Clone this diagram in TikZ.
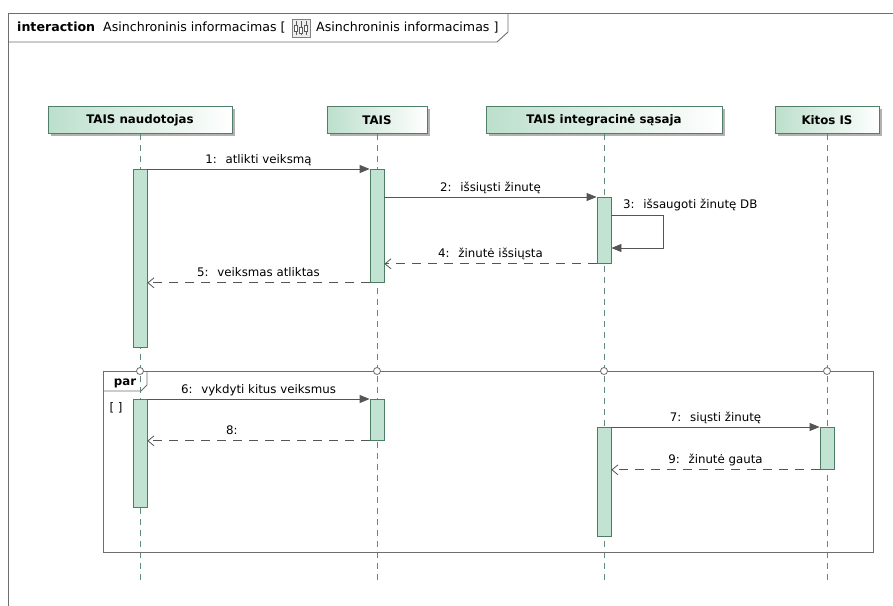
\documentclass[tikz,border=0pt]{standalone}
\usepackage{fontspec}
\setmainfont{DejaVu Sans}
\usetikzlibrary{arrows.meta,positioning,shadows}

\definecolor{headline}{HTML}{4F7F68}
\definecolor{headfill}{HTML}{BCDFCC}
\definecolor{actfill}{HTML}{C2E3D1}
\definecolor{actline}{HTML}{4E7D65}
\definecolor{lifecol}{HTML}{5F8C7A}
\definecolor{msgcol}{HTML}{555555}
\definecolor{framecol}{HTML}{6E6E6E}

\begin{document}
\begin{tikzpicture}[x=1pt,y=-1pt,
    font=\fontsize{11.8}{14}\selectfont,
    headbox/.style={draw=headline,line width=0.8pt,left color=headfill,right color=white,
      minimum height=27pt,inner sep=0pt,anchor=north,font=\fontsize{11.8}{14}\selectfont\bfseries,
      drop shadow={shadow xshift=3pt,shadow yshift=-3pt,fill=black!30,opacity=1}},
    actbar/.style={draw=actline,line width=0.8pt,fill=actfill,minimum width=14pt,inner sep=0pt,anchor=north},
    lifeline/.style={draw=lifecol,line width=0.8pt,dash pattern=on 6pt off 5pt},
    callmsg/.style={draw=msgcol,line width=0.8pt,-{Triangle[length=10pt,width=8pt]}},
    replymsg/.style={draw=msgcol,line width=0.8pt,dash pattern=on 9pt off 7pt,-{Straight Barb[length=6pt,width=10pt]}},
    msglabel/.style={anchor=base,yshift=6pt,inner sep=0pt},
    titletext/.style={anchor=base west,inner sep=0pt,font=\fontsize{12.6}{14}\selectfont},
    framebox/.style={draw=framecol,line width=0.9pt},
    gatedot/.style={circle,draw=framecol,line width=0.8pt,fill=white,minimum size=7pt,inner sep=0pt}]
  \useasboundingbox (0,0) rectangle (893,605);

  % diagram frame
  \draw[framebox] (8,620) -- (8,13) -- (900,13);
  \draw[framebox] (8,42) -- (497,42) -- (508,32) -- (508,13);
  \node[titletext] (title) at (17,31) {\textbf{interaction}~~Asinchroninis informacimas [};
  \node[draw=gray,fill=gray!15,minimum width=18pt,minimum height=18pt,inner sep=0pt] (icon) at (301,28) {};
  \draw[gray!70!black] (296,21) -- (296,35) (301,21) -- (301,35) (306,21) -- (306,35);
  \draw[gray!70!black,fill=white] (294.5,25) rectangle (297.5,31) (299.5,27) rectangle (302.5,33) (304.5,25) rectangle (307.5,31);
  \node[titletext] (title2) at (316,31) {Asinchroninis informacimas ]};

  % lifelines
  \node[headbox,minimum width=184pt] (user) at (140,106) {TAIS naudotojas};
  \node[headbox,minimum width=100pt] (tais) at (377,106) {TAIS};
  \node[headbox,minimum width=236pt] (sasaja) at (604,106) {TAIS integracinė sąsaja};
  \node[headbox,minimum width=104pt] (kitos) at (827,106) {Kitos IS};
  \foreach \h in {user,tais,sasaja,kitos}
    \draw[lifeline] (\h.south) -- ++(0,449);

  % par fragment
  \draw[framebox] (103,371) rectangle (873,552);
  \draw[framebox] (103,391) -- (141,391) -- (147,385) -- (147,371);
  \node[font=\fontsize{11.8}{14}\selectfont\bfseries,inner sep=0pt] (par) at (125,383) {par};
  \node[inner sep=0pt] (guard) at (116,408) {[ ]};
  \foreach \h in {user,tais,sasaja,kitos}
    \node[gatedot] (\h-gate) at (\h.south |- 0,371) {};

  % activations
  \node[actbar,minimum height=178pt] (user1) at (140,169) {};
  \node[actbar,minimum height=113pt] (tais1) at (377,169) {};
  \node[actbar,minimum height=66pt] (sas1) at (604,197) {};
  \node[actbar,minimum height=108pt] (user2) at (140,399) {};
  \node[actbar,minimum height=41pt] (tais2) at (377,399) {};
  \node[actbar,minimum height=109pt] (sas2) at (604,427) {};
  \node[actbar,minimum height=42pt] (kit2) at (827,427) {};

  % messages
  \draw[callmsg] (user1.north east) -- (tais1.north west) node[msglabel,midway] {1:~ atlikti veiksmą};
  \draw[callmsg] (tais1.east |- sas1.north) -- (sas1.north west) node[msglabel,midway] {2:~ išsiųsti žinutę};
  \coordinate (loop3a) at (663,215);
  \coordinate (loop3b) at (663,248);
  \draw[callmsg] (sas1.east |- loop3a) -- (loop3a) -- (loop3b) -- (sas1.east |- loop3b);
  \node[anchor=base west,inner sep=0pt] (lbl3) at (623,208) {3:~ išsaugoti žinutę DB};
  \draw[replymsg] (sas1.south west) -- (tais1.east |- sas1.south) node[msglabel,midway] {4:~ žinutė išsiųsta};
  \draw[replymsg] (tais1.south west) -- (user1.east |- tais1.south) node[msglabel,midway] {5:~ veiksmas atliktas};
  \draw[callmsg] (user2.north east) -- (tais2.north west) node[msglabel,midway] {6:~ vykdyti kitus veiksmus};
  \draw[callmsg] (sas2.north east) -- (kit2.north west) node[msglabel,midway] {7:~ siųsti žinutę};
  \draw[replymsg] (tais2.south west) -- (user2.east |- tais2.south) node[msglabel,pos=0.62] {8:};
  \draw[replymsg] (kit2.south west) -- (sas2.east |- kit2.south) node[msglabel,midway] {9:~ žinutė gauta};
\end{tikzpicture}
\end{document}
